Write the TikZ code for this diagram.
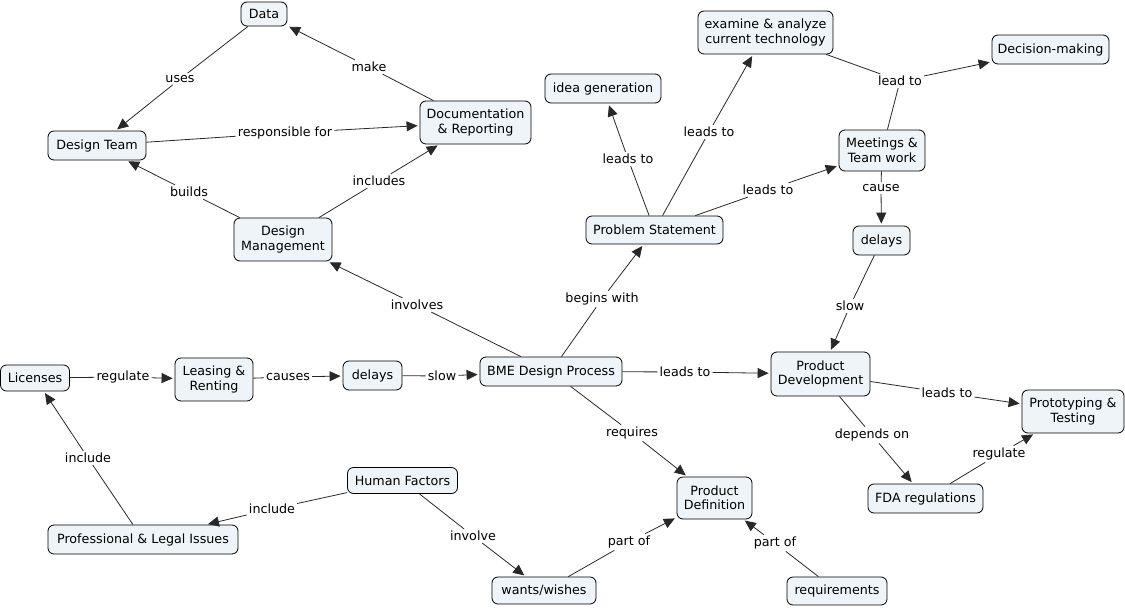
\documentclass[tikz,border=0pt]{standalone}
\usepackage{fontspec}
\setmainfont{DejaVu Sans}
\usetikzlibrary{arrows.meta}
\definecolor{cfill}{RGB}{238,244,247}
\definecolor{cline}{RGB}{40,40,40}
\tikzset{
  concept/.style={draw=black, line width=0.8pt, fill=cfill, rounded corners=6pt,
    inner sep=1pt, align=center, font=\fontsize{12.7}{14.5}\selectfont},
  linkph/.style={fill=white, inner sep=2pt, font=\fontsize{12.7}{14.5}\selectfont},
  conn/.style={draw=cline, line width=0.8pt},
  arr/.style={conn, -{Triangle[length=11pt,width=10pt]}, shorten >=2pt},
}
\begin{document}
\begin{tikzpicture}[x=1pt,y=-1pt]
\useasboundingbox (0,0) rectangle (1125,608);
% concepts
\node[concept, minimum width=46pt, minimum height=24pt] (data) at (264,14) {Data};
\node[concept, minimum width=98pt, minimum height=29pt] (team) at (97,145.5) {Design Team};
\node[concept, minimum width=111pt, minimum height=43pt] (doc) at (475.5,122.5) {Documentation\\\& Reporting};
\node[concept, minimum width=98pt, minimum height=43pt] (mgmt) at (283,239.5) {Design\\Management};
\node[concept, minimum width=116pt, minimum height=29pt] (idea) at (603,88.5) {idea generation};
\node[concept, minimum width=135pt, minimum height=43pt] (exam) at (765.5,32.5) {examine \& analyze\\current technology};
\node[concept, minimum width=117pt, minimum height=29pt] (dec) at (1050.5,49.5) {Decision-making};
\node[concept, minimum width=137pt, minimum height=28pt] (prob) at (654.5,230) {Problem Statement};
\node[concept, minimum width=86pt, minimum height=41pt] (meet) at (882,150.5) {Meetings \&\\Team work};
\node[concept, minimum width=57pt, minimum height=29pt] (delR) at (881.5,240.5) {delays};
\node[concept, minimum width=69pt, minimum height=26pt] (lic) at (35,378) {Licenses};
\node[concept, minimum width=78pt, minimum height=43pt] (lease) at (214,379.5) {Leasing \&\\Renting};
\node[concept, minimum width=59pt, minimum height=29pt] (delL) at (372.5,375.5) {delays};
\node[concept, minimum width=142pt, minimum height=29pt] (bme) at (551,371.5) {BME Design Process};
\node[concept, minimum width=99pt, minimum height=44pt] (pdev) at (820.5,374) {Product\\Development};
\node[concept, minimum width=102pt, minimum height=43pt] (proto) at (1073,411.5) {Prototyping \&\\Testing};
\node[concept, minimum width=75pt, minimum height=42pt] (pdef) at (714.5,498) {Product\\Definition};
\node[concept, minimum width=115pt, minimum height=29pt] (fda) at (925.5,498.5) {FDA regulations};
\node[concept, minimum width=110pt, minimum height=26pt] (human) at (402.5,480.5) {Human Factors};
\node[concept, minimum width=190pt, minimum height=29pt] (prof) at (143,539.5) {Professional \& Legal Issues};
\node[concept, minimum width=104pt, minimum height=27pt] (wants) at (544,590.5) {wants/wishes};
\node[concept, minimum width=100pt, minimum height=28pt] (req) at (837,591) {requirements};
% linking phrases
\node[linkph] (l_uses) at (180,79) {uses};
\node[linkph] (l_make) at (369,67) {make};
\node[linkph] (l_resp) at (285,133) {responsible for};
\node[linkph] (l_builds) at (189,192) {builds};
\node[linkph] (l_incl) at (379,181) {includes};
\node[linkph] (l_inv) at (417,305) {involves};
\node[linkph] (l_begin) at (602,299) {begins with};
\node[linkph] (l_lidea) at (628,159) {leads to};
\node[linkph] (l_lexam) at (709,132) {leads to};
\node[linkph] (l_lmeet) at (768,190) {leads to};
\node[linkph] (l_leadto) at (900,81) {lead to};
\node[linkph] (l_cause) at (881,188) {cause};
\node[linkph] (l_slowR) at (850,306) {slow};
\node[linkph] (l_regL) at (123,377) {regulate};
\node[linkph] (l_causes) at (288,377) {causes};
\node[linkph] (l_slowL) at (442,376) {slow};
\node[linkph] (l_lbme) at (685,372) {leads to};
\node[linkph] (l_lpd) at (947,393) {leads to};
\node[linkph] (l_dep) at (872,435) {depends on};
\node[linkph] (l_regR) at (999,454) {regulate};
\node[linkph] (l_req) at (632,433) {requires};
\node[linkph] (l_inclL) at (88,458) {include};
\node[linkph] (l_inclH) at (272,509) {include};
\node[linkph] (l_involve) at (473,536) {involve};
\node[linkph] (l_partW) at (629,542) {part of};
\node[linkph] (l_partR) at (775,543) {part of};
% connections
\draw[conn] (data) -- (l_uses); \draw[arr] (l_uses) -- (team);
\draw[conn] (doc) -- (l_make); \draw[arr] (l_make) -- (data);
\draw[conn] (team) -- (l_resp); \draw[arr] (l_resp) -- (doc);
\draw[conn] (mgmt) -- (l_builds); \draw[arr] (l_builds) -- (team);
\draw[conn] (mgmt) -- (l_incl); \draw[arr] (l_incl) -- (doc);
\draw[conn] (bme) -- (l_inv); \draw[arr] (l_inv) -- (mgmt);
\draw[conn] (bme) -- (l_begin); \draw[arr] (l_begin) -- (prob);
\draw[conn] (prob) -- (l_lidea); \draw[arr] (l_lidea) -- (idea);
\draw[conn] (prob) -- (l_lexam); \draw[arr] (l_lexam) -- (exam);
\draw[conn] (prob) -- (l_lmeet); \draw[arr] (l_lmeet) -- (meet);
\draw[conn] (exam) -- (l_leadto); \draw[conn] (meet) -- (l_leadto); \draw[arr] (l_leadto) -- (dec);
\draw[conn] (meet) -- (l_cause); \draw[arr] (l_cause) -- (delR);
\draw[conn] (delR) -- (l_slowR); \draw[arr] (l_slowR) -- (pdev);
\draw[conn] (lic) -- (l_regL); \draw[arr] (l_regL) -- (lease);
\draw[conn] (lease) -- (l_causes); \draw[arr] (l_causes) -- (delL);
\draw[conn] (delL) -- (l_slowL); \draw[arr] (l_slowL) -- (bme);
\draw[conn] (bme) -- (l_lbme); \draw[arr] (l_lbme) -- (pdev);
\draw[conn] (pdev) -- (l_lpd); \draw[arr] (l_lpd) -- (proto);
\draw[conn] (pdev) -- (l_dep); \draw[arr] (l_dep) -- (fda);
\draw[conn] (fda) -- (l_regR); \draw[arr] (l_regR) -- (proto);
\draw[conn] (bme) -- (l_req); \draw[arr] (l_req) -- (pdef);
\draw[conn] (prof) -- (l_inclL); \draw[arr] (l_inclL) -- (lic);
\draw[conn] (human) -- (l_inclH); \draw[arr] (l_inclH) -- (prof);
\draw[conn] (human) -- (l_involve); \draw[arr] (l_involve) -- (wants);
\draw[conn] (wants) -- (l_partW); \draw[arr] (l_partW) -- (pdef);
\draw[conn] (req) -- (l_partR); \draw[arr] (l_partR) -- (pdef);
\end{tikzpicture}
\end{document}
